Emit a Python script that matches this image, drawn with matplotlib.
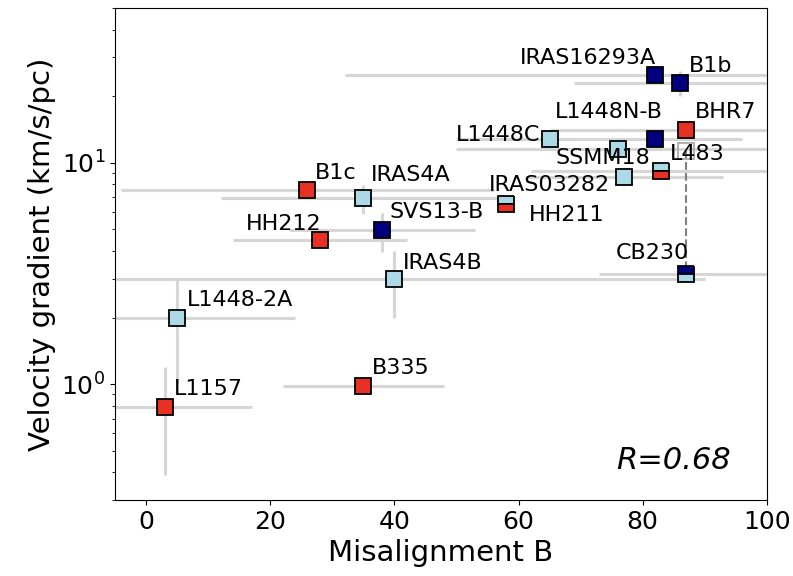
import matplotlib
matplotlib.use("Agg")
import matplotlib.pyplot as plt

NAVY = "#000080"
RED = "#e83124"
LBLUE = "#add8e6"

# sources, misalignment (deg) and velocity gradient (km/s/pc)
names = ["IRAS16293A", "B1b", "L1448N-B", "BHR7", "L1448C", "SSMM18", "L483",
         "IRAS03282", "HH211", "CB230", "B1c", "IRAS4A", "HH212", "SVS13-B",
         "IRAS4B", "L1448-2A", "L1157", "B335"]
mis_b = [82, 86, 82, 87, 65, 76, 83, 77, 58, 87, 26, 35, 28, 38, 40, 5, 3, 35]
grad = [25, 23, 12.8, 14, 12.8, 11.5, 9.2, 8.6, 6.5, 3.15, 7.5, 6.9, 4.5, 4.95,
        3.0, 2.0, 0.79, 0.98]
mis_err = [50, 17, 14, 22, 15, 26, 21, 16, 0, 14, 30, 23, 14, 15, 50, 19, 14, 13]
grad_err = [0, 3, 0, 0, 0, 0, 0, 0, 0, 0, 0, 1, 0, 1, 1, 1, 0.4, 0]
top_col = [NAVY, NAVY, NAVY, RED, LBLUE, LBLUE, LBLUE, LBLUE, LBLUE, NAVY, RED,
           LBLUE, RED, NAVY, LBLUE, LBLUE, RED, RED]
bot_col = [NAVY, NAVY, NAVY, RED, LBLUE, LBLUE, RED, LBLUE, RED, LBLUE, RED,
           LBLUE, RED, NAVY, LBLUE, LBLUE, RED, RED]

# alternative value for CB230
alt_x = [87]
alt_y = [11.25]

# label placement: offset in pixels from the point, alignment
label_pos = {
    "IRAS16293A": (1, 11, "right"),
    "B1b": (9, 11, "left"),
    "L1448N-B": (8, 21, "right"),
    "BHR7": (9, 12, "left"),
    "L1448C": (-9, -2, "right"),
    "SSMM18": (-62, -15, "left"),
    "L483": (9, 11, "left"),
    "IRAS03282": (-14, -14, "right"),
    "HH211": (23, -17, "left"),
    "CB230": (3, 15, "right"),
    "B1c": (7, 11, "left"),
    "IRAS4A": (8, 17, "left"),
    "HH212": (2, 10, "right"),
    "SVS13-B": (8, 12, "left"),
    "IRAS4B": (9, 10, "left"),
    "L1448-2A": (10, 12, "left"),
    "L1157": (9, 12, "left"),
    "B335": (9, 12, "left"),
}

fig = plt.figure(figsize=(7.93, 5.76), dpi=100)
ax = fig.add_axes([0.145, 0.132, 0.822, 0.854])

# dashed link between the two CB230 values
cb = names.index("CB230")
ax.plot([alt_x[0], mis_b[cb]], [alt_y[0], grad[cb]], "--", color="gray",
        lw=1.5, zorder=2)
ax.plot(alt_x, alt_y, "s", ms=12, mfc="none", mec="darkgray", mew=1.3,
        zorder=2)

for i, name in enumerate(names):
    xe = mis_err[i] if mis_err[i] > 0 else None
    ye = grad_err[i] if grad_err[i] > 0 else None
    if xe is not None or ye is not None:
        ax.errorbar(mis_b[i], grad[i], xerr=xe, yerr=ye, fmt="none",
                    ecolor="#d6d6d6", elinewidth=2.2, capsize=0, zorder=1)

for i, name in enumerate(names):
    if top_col[i] == bot_col[i]:
        ax.plot(mis_b[i], grad[i], "s", ms=12, mfc=top_col[i], mec="black",
                mew=1.3, zorder=3)
    else:
        ax.plot(mis_b[i], grad[i], "s", ms=12, fillstyle="top",
                mfc=top_col[i], markerfacecoloralt=bot_col[i], mec="black",
                mew=1.3, zorder=3)
    dx, dy, ha = label_pos[name]
    ax.annotate(name, (mis_b[i], grad[i]), xytext=(dx, dy),
                textcoords="offset pixels", ha=ha, va="baseline",
                fontsize=16, zorder=4)

ax.set_yscale("log")
ax.set_xlim(-5, 100)
ax.set_ylim(0.3, 50)
ax.set_xlabel("Misalignment B", fontsize=21)
ax.set_ylabel("Velocity gradient (km/s/pc)", fontsize=21)
ax.tick_params(axis="both", which="major", labelsize=18)

ax.text(0.945, 0.08, "R=0.68", transform=ax.transAxes, ha="right",
        va="center", fontsize=22, style="italic")

fig.savefig("out.png", dpi=100)
